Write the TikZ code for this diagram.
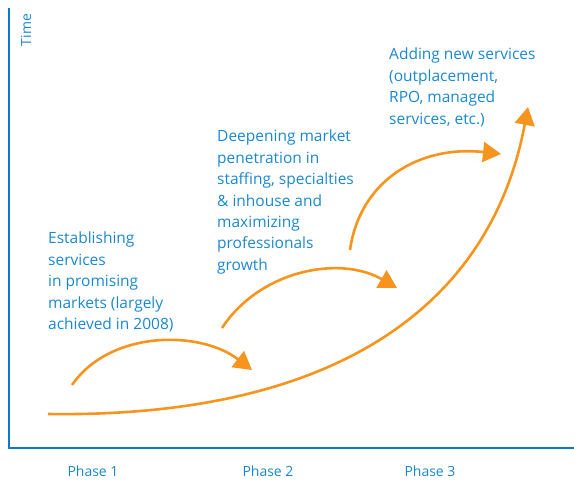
\documentclass[tikz,border=0pt]{standalone}
\usepackage{fontspec}
\setmainfont{Open Sans}
\usetikzlibrary{arrows.meta}
\definecolor{axisblue}{HTML}{0A7BC8}
\definecolor{txtblue}{HTML}{1A88CF}
\definecolor{curveorange}{HTML}{F7941D}
\tikzset{
  axisline/.style={draw=axisblue, line width=2pt},
  label/.style={text=txtblue, font=\fontsize{15.5}{21.4}\selectfont, align=left, inner sep=0pt, anchor=north west},
  phaselabel/.style={text=txtblue, font=\fontsize{14}{17}\selectfont, inner sep=0pt},
  growth/.style={draw=curveorange, line width=2.6pt, -{Triangle[length=18pt,width=20pt]}},
}
\begin{document}
\begin{tikzpicture}[x=1pt,y=-1pt]
\useasboundingbox (0,0) rectangle (574,499);
\coordinate (top) at (9,8);
\coordinate (origin) at (9,448);
\coordinate (right) at (574,448);
\draw[axisline] (top) -- (origin) -- (right);
\node[phaselabel, rotate=90] (time) at (26,30) {Time};
\node[phaselabel] (p1) at (93,471) {Phase 1};
\node[phaselabel] (p2) at (268,471) {Phase 2};
\node[phaselabel] (p3) at (430,471) {Phase 3};
\node[label] (t1) at (48,232) {Establishing\\services\\in promising\\markets (largely\\achieved in 2008)};
\node[label] (t2) at (217,130) {Deepening market\\penetration in\\staffing, specialties\\\& inhouse and\\maximizing\\professionals\\growth};
\node[label] (t3) at (389,48) {Adding new services\\(outplacement,\\RPO, managed\\services, etc.)};
\coordinate (m0) at (48,414);
\coordinate (m1) at (528,107);
\draw[growth] (m0) .. controls (330,418) and (490,310) .. (m1);
\coordinate (a0) at (72,385);
\coordinate (a1) at (252,370);
\draw[growth] (a0) .. controls (110,330) and (200,330) .. (a1);
\coordinate (b0) at (222,328);
\coordinate (b1) at (397,288);
\draw[growth] (b0) .. controls (260,270) and (340,255) .. (b1);
\coordinate (c0) at (350,250);
\coordinate (c1) at (501,154);
\draw[growth] (c0) .. controls (360,180) and (420,145) .. (c1);
\end{tikzpicture}
\end{document}
